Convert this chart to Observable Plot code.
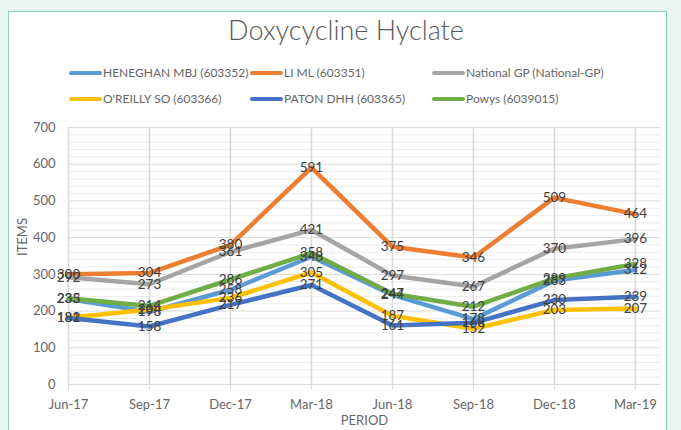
<!DOCTYPE html>
<html>
<head>
<meta charset="utf-8">
<script src="https://cdn.jsdelivr.net/npm/d3@7"></script>
<script src="https://cdn.jsdelivr.net/npm/@observablehq/plot@0.6"></script>
<style>
  html, body { margin:0; padding:0; width:681px; height:430px; overflow:hidden; background:#e9f5f1; font-family: Lato, "Open Sans", sans-serif; }
  #panel { position:absolute; left:8px; top:11px; width:659px; height:440px; background:#fff; border:1.5px solid #86d4ba; box-sizing:border-box; }
  #title { position:absolute; top:13px; left:0; width:692px; text-align:center; font-size:27px; font-weight:300; color:#595959; }
  .leg { position:absolute; font-size:12px; color:#666; white-space:nowrap; line-height:14px; }
  .sw { display:inline-block; width:33px; height:4px; border-radius:2px; vertical-align:middle; margin-right:1px; position:relative; top:-1px; }
  #chart { position:absolute; left:0; top:115px; }
</style>
</head>
<body>
<div id="panel"></div>
<div id="title">Doxycycline Hyclate</div>
<div id="legend"></div>
<div id="chart"></div>
<script>
const periods = ["Jun-17","Sep-17","Dec-17","Mar-18","Jun-18","Sep-18","Dec-18","Mar-19"];
const seriesNames = ["HENEGHAN MBJ (603352)","LI ML (603351)","National GP (National-GP)","O'REILLY SO (603366)","PATON DHH (603365)","Powys (6039015)"];
const seriesColors = ["#5b9bd5","#ed7d31","#a5a5a5","#ffc000","#4472c4","#70ad47"];
const heneghan = [233,198,258,348,244,178,283,312];
const liml     = [300,304,380,591,375,346,509,464];
const national = [292,273,361,421,297,267,370,396];
const oreilly  = [182,204,236,305,187,152,203,207];
const paton    = [181,158,217,271,161,168,230,239];
const powys    = [235,214,286,358,247,212,289,328];
const yTicks = [0,100,200,300,400,500,600,700];

const seriesValues = [heneghan, liml, national, oreilly, paton, powys];
const data = seriesValues.flatMap((vals, s) => vals.map((v, i) => ({series: seriesNames[s], i, value: v})));

// legend
const legendPos = [[69,66],[250,66],[432,66],[69,92],[250,92],[432,92]];
const legend = document.getElementById("legend");
seriesNames.forEach((n, k) => {
  const d = document.createElement("div");
  d.className = "leg";
  d.style.left = legendPos[k][0] + "px";
  d.style.top = legendPos[k][1] + "px";
  d.innerHTML = `<span class="sw" style="background:${seriesColors[k]}"></span>`;
  d.appendChild(document.createTextNode(n));
  legend.appendChild(d);
});

const minor = d3.range(0, 701, 20).filter(v => v % 100 !== 0);

const chart = Plot.plot({
  width: 681, height: 315,
  marginLeft: 68, marginRight: 21, marginTop: 12, marginBottom: 46,
  style: {fontFamily: "Lato, 'Open Sans', sans-serif", fontSize: "13px", color: "#666", background: "transparent", overflow: "visible"},
  x: {type: "linear", domain: [0, 7.31]},
  y: {domain: [0, 700]},
  color: {domain: seriesNames, range: seriesColors},
  marks: [
    Plot.ruleY(minor, {stroke: "#ececec", strokeWidth: 1}),
    Plot.ruleY(yTicks, {stroke: "#d9d9d9", strokeWidth: 1}),
    Plot.ruleX(d3.range(periods.length), {stroke: "#d9d9d9", strokeWidth: 1.5}),
    Plot.axisX({ticks: d3.range(periods.length), tickFormat: i => periods[i], tickSize: 6, tickPadding: 9, stroke: "#d9d9d9", fill: "#666", label: null}),
    Plot.axisY({ticks: yTicks, tickSize: 0, tickPadding: 13, fill: "#666", label: null}),
    Plot.lineY(data, {x: "i", y: "value", z: "series", stroke: "series", strokeWidth: 4.5, strokeLinejoin: "round", strokeLinecap: "round"}),
    Plot.text(data, {x: "i", y: "value", text: "value", fill: "#404040", fontSize: 13.5}),
    Plot.text(["ITEMS"], {frameAnchor: "left", dx: -46, rotate: -90, fill: "#666", fontSize: 13}),
    Plot.text(["PERIOD"], {frameAnchor: "bottom", dy: 40, fill: "#666", fontSize: 13})
  ]
});
document.getElementById("chart").appendChild(chart);
</script>
</body>
</html>
